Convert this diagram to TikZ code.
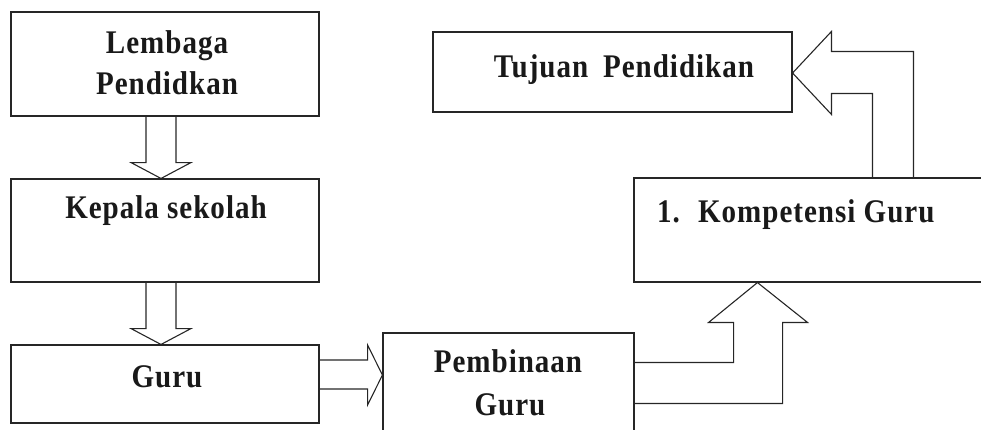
\documentclass[tikz,border=0pt]{standalone}
\usepackage{fontspec}
\setmainfont[FakeStretch=0.88,LetterSpace=3]{Liberation Serif}
\usetikzlibrary{calc}
\begin{document}
\begin{tikzpicture}[x=1pt,y=-1pt,
  box/.style={draw=black!85,line width=1.1pt,rectangle,inner sep=0pt},
  lbl/.style={font=\fontsize{33}{41}\selectfont\bfseries,text=black!90,inner sep=0pt,align=center},
  blk/.style={draw=black!85,line width=1.1pt,line join=miter}]
\useasboundingbox (0,0) rectangle (981,429);
\clip (0,0) rectangle (981,429);
% boxes
\node[box,minimum width=308pt,minimum height=104pt] (lem) at (165,64) {};
\node[box,minimum width=308pt,minimum height=103pt] (kep) at (165,230.5) {};
\node[box,minimum width=308pt,minimum height=78pt] (guru) at (165,384) {};
\node[box,minimum width=251pt,minimum height=120pt] (pem) at (508.5,393) {};
\node[box,minimum width=359pt,minimum height=80pt] (tuj) at (612.5,72) {};
\node[box,minimum width=400pt,minimum height=104pt] (komp) at (834,230) {};
% texts
\node[lbl,anchor=base] (tlem1) at (167,53) {Lembaga};
\node[lbl,anchor=base] (tlem2) at (167,94) {Pendidkan};
\node[lbl,anchor=base] (tkep) at (166,218) {Kepala sekolah};
\node[lbl,anchor=base] (tguru) at (167,387) {Guru};
\node[lbl,anchor=base] (ttuj) at (624,77) {Tujuan\hspace{0.45em}Pendidikan};
\node[lbl,anchor=base west] (tkomp) at (657,222) {1.\hspace{0.55em}Kompetensi Guru};
\node[lbl,anchor=base] (tpem1) at (508,372) {Pembinaan};
\node[lbl,anchor=base] (tpem2) at (510,415) {Guru};
% block arrows
\draw[blk] ($(lem.south)+(-19,0)$) -- ++(0,46) -- ++(-15,0) -- ($(kep.north)+(-4,0)$)
  -- ($(lem.south)+(26,46)$) -- ++(-15,0) -- ($(lem.south)+(11,0)$);
\draw[blk] ($(kep.south)+(-19,0)$) -- ++(0,46) -- ++(-15,0) -- ($(guru.north)+(-4,0)$)
  -- ($(kep.south)+(26,46)$) -- ++(-15,0) -- ($(kep.south)+(11,0)$);
\draw[blk] ($(guru.east)+(0,-24)$) -- ++(48,0) -- ++(0,-15) -- ($(pem.west)+(0,-18)$)
  -- ($(guru.east)+(48,21)$) -- ++(0,-16) -- ($(guru.east)+(0,5)$);
\draw[blk] ($(pem.north east)+(0,30)$) -- ++(99,0) -- ++(0,-40) -- ++(-25,0)
  -- ($(komp.south west)+(124,0)$) -- ($(pem.north east)+(173,-10)$) -- ++(-25,0)
  -- ($(pem.north east)+(148,71)$) -- ($(pem.north east)+(0,71)$);
\draw[blk] ($(komp.north west)+(239,0)$) -- ++(0,-84) -- ++(-41,0) -- ++(0,21)
  -- ($(tuj.east)+(0,1)$) -- ($(komp.north west)+(198,-146)$) -- ++(0,20) -- ++(82,0)
  -- ($(komp.north west)+(280,0)$);
\end{tikzpicture}
\end{document}
